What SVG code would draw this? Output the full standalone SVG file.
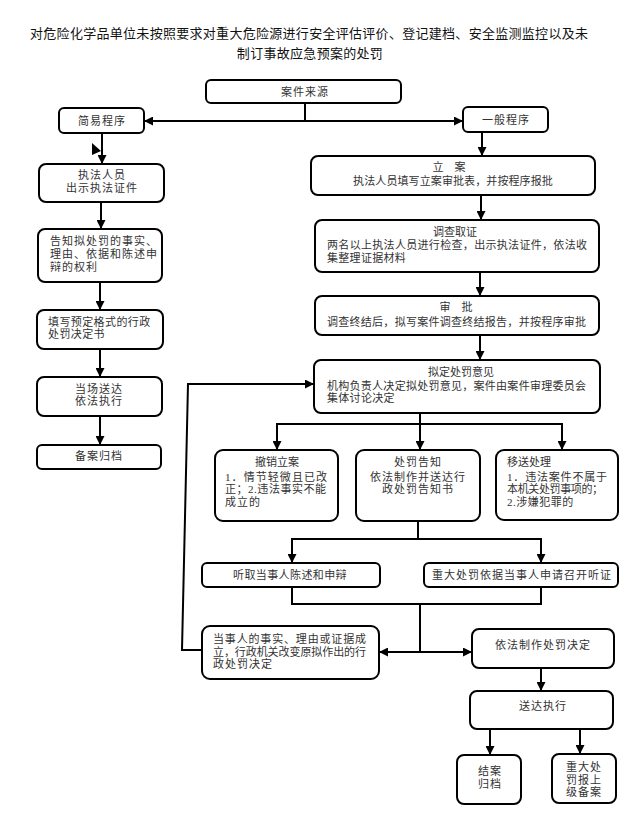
<svg xmlns="http://www.w3.org/2000/svg" width="621" height="822" viewBox="0 0 621 822">
<defs>
<marker id="ah" viewBox="0 0 10 10" refX="10" refY="5" markerWidth="9" markerHeight="9" markerUnits="userSpaceOnUse" orient="auto">
<path d="M0,0 L10,5 L0,10 z" fill="#000"/>
</marker>
<style>
.box{fill:#fff;stroke:#000;stroke-width:2}
.t{font-family:"Liberation Serif","Noto Sans CJK SC",serif;font-size:11px;fill:#333}
.c{text-anchor:middle}
.s1{letter-spacing:1px}
.title{font-family:"Liberation Serif","Noto Sans CJK SC",serif;font-size:13px;fill:#111}
.ln{fill:none;stroke:#000;stroke-width:2}
.ar{marker-end:url(#ah)}
</style>
</defs>
<rect width="621" height="822" fill="#fff"/>
<g id="title">
<text class="title" x="30" y="38" textLength="558" lengthAdjust="spacing">对危险化学品单位未按照要求对重大危险源进行安全评估评价、登记建档、安全监测监控以及未</text>
<text class="title" x="310" y="58" text-anchor="middle" letter-spacing="0.3">制订事故应急预案的处罚</text>
</g>
<g id="connectors">
<path class="ln" d="M305,103 V121"/>
<path class="ln ar" d="M305,121 H144"/>
<path class="ln ar" d="M305,121 H463"/>
<polygon points="92,143 101,151 92,155" fill="#000"/>
<path class="ln ar" d="M102,133 V164"/>
<path class="ln ar" d="M101,202 V229"/>
<path class="ln ar" d="M100,282 V310"/>
<path class="ln ar" d="M100,349 V377"/>
<path class="ln ar" d="M100,416 V445"/>
<path class="ln ar" d="M482,132 V156"/>
<path class="ln ar" d="M481,195 V220"/>
<path class="ln ar" d="M480,272 V296"/>
<path class="ln ar" d="M480,335 V360"/>
<path class="ln ar" d="M202,650 H182 L188,384 H314"/>
<path class="ln" d="M420,413 V424 M277,424 H562"/>
<path class="ln ar" d="M277,423 V450"/>
<path class="ln ar" d="M420,423 V450"/>
<path class="ln ar" d="M562,423 V450"/>
<path class="ln" d="M418,521 V539 M292,539 H541"/>
<path class="ln ar" d="M292,538 V563"/>
<path class="ln ar" d="M541,538 V563"/>
<path class="ln" d="M292,587 V604 H541 V587 M420,604 V652"/>
<path class="ln ar" d="M420,652 H379"/>
<path class="ln ar" d="M420,652 H472"/>
<path class="ln ar" d="M541,668 V691"/>
<path class="ln ar" d="M490,729 V755"/>
<path class="ln ar" d="M580,729 V754"/>
</g>
<g id="n_source"><rect class="box" x="206" y="80" width="195" height="23" rx="5"/><text class="t c s1" x="305" y="96">案件来源</text></g>
<g id="n_simple"><rect class="box" x="59" y="108" width="85" height="25" rx="5"/><text class="t c s1" x="102" y="125">简易程序</text></g>
<g id="n_general"><rect class="box" x="463" y="107" width="85" height="25" rx="5"/><text class="t c s1" x="506" y="124">一般程序</text></g>
<g id="n_show"><rect class="box" x="39" y="164" width="125" height="38" rx="7"/><text class="t c s1" x="102" y="179">执法人员</text><text class="t c s1" x="102" y="192">出示执法证件</text></g>
<g id="n_inform"><rect class="box" x="38" y="229" width="124" height="53" rx="7"/><text class="t s1" x="50" y="245">告知拟处罚的事实、</text><text class="t s1" x="50" y="258">理由、依据和陈述申</text><text class="t s1" x="50" y="271">辩的权利</text></g>
<g id="n_fill"><rect class="box" x="37" y="310" width="126" height="39" rx="7"/><text class="t" x="48" y="326" letter-spacing="0.4">填写预定格式的行政</text><text class="t" x="48" y="338" letter-spacing="0.4">处罚决定书</text></g>
<g id="n_deliver1"><rect class="box" x="37" y="377" width="125" height="39" rx="7"/><text class="t c s1" x="99" y="393">当场送达</text><text class="t c s1" x="99" y="405">依法执行</text></g>
<g id="n_archive1"><rect class="box" x="37" y="445" width="124" height="24" rx="5"/><text class="t c s1" x="99" y="460">备案归档</text></g>
<g id="n_file"><rect class="box" x="311" y="156" width="284" height="39" rx="7"/><text class="t c" x="449" y="171">立　案</text><text class="t c" x="453" y="185" letter-spacing="0.1">执法人员填写立案审批表，并按程序报批</text></g>
<g id="n_invest"><rect class="box" x="315" y="220" width="284" height="52" rx="7"/><text class="t c" x="455" y="236">调查取证</text><text class="t" x="327" y="249" textLength="260" lengthAdjust="spacing">两名以上执法人员进行检查，出示执法证件，依法收</text><text class="t" x="327" y="262" letter-spacing="0.3">集整理证据材料</text></g>
<g id="n_approve"><rect class="box" x="315" y="296" width="284" height="39" rx="7"/><text class="t c" x="456" y="311">审　批</text><text class="t" x="327" y="326" textLength="259" lengthAdjust="spacing">调查终结后，拟写案件调查终结报告，并按程序审批</text></g>
<g id="n_opinion"><rect class="box" x="314" y="360" width="286" height="53" rx="7"/><text class="t c" x="461" y="376">拟定处罚意见</text><text class="t" x="327" y="390" textLength="259" lengthAdjust="spacing">机构负责人决定拟处罚意见，案件由案件审理委员会</text><text class="t" x="327" y="402" letter-spacing="0.3">集体讨论决定</text></g>
<g id="n_revoke"><rect class="box" x="215" y="450" width="123" height="71" rx="8"/><text class="t c" x="277" y="466">撤销立案</text><text class="t" x="225" y="481" textLength="102" lengthAdjust="spacing">1．情节轻微且已改</text><text class="t" x="225" y="493" textLength="101" lengthAdjust="spacing">正；2.违法事实不能</text><text class="t s1" x="225" y="506">成立的</text></g>
<g id="n_notice"><rect class="box" x="356" y="450" width="124" height="71" rx="8"/><text class="t c s1" x="418" y="466">处罚告知</text><text class="t c s1" x="418" y="481">依法制作并送达行</text><text class="t c s1" x="418" y="493">政处罚告知书</text></g>
<g id="n_transfer"><rect class="box" x="496" y="450" width="122" height="70" rx="8"/><text class="t" x="507" y="466">移送处理</text><text class="t" x="507" y="481" textLength="100" lengthAdjust="spacing">1．违法案件不属于</text><text class="t" x="507" y="493" textLength="96" lengthAdjust="spacing">本机关处罚事项的；</text><text class="t" x="507" y="506" letter-spacing="0.5">2.涉嫌犯罪的</text></g>
<g id="n_hear"><rect class="box" x="202" y="563" width="178" height="24" rx="5"/><text class="t c" x="290" y="579" letter-spacing="0.4">听取当事人陈述和申辩</text></g>
<g id="n_hearing"><rect class="box" x="424" y="563" width="194" height="24" rx="5"/><text class="t c s1" x="522" y="579">重大处罚依据当事人申请召开听证</text></g>
<g id="n_change"><rect class="box" x="202" y="626" width="177" height="53" rx="8"/><text class="t" x="213" y="643" textLength="153" lengthAdjust="spacing">当事人的事实、理由或证据成</text><text class="t" x="213" y="656" textLength="153" lengthAdjust="spacing">立，行政机关改变原拟作出的行</text><text class="t s1" x="213" y="668">政处罚决定</text></g>
<g id="n_decide"><rect class="box" x="472" y="629" width="142" height="39" rx="7"/><text class="t c s1" x="543" y="649">依法制作处罚决定</text></g>
<g id="n_deliver2"><rect class="box" x="470" y="691" width="143" height="38" rx="7"/><text class="t c s1" x="543" y="710">送达执行</text></g>
<g id="n_close"><rect class="box" x="457" y="755" width="64" height="49" rx="7"/><text class="t c s1" x="490" y="775">结案</text><text class="t c s1" x="490" y="788">归档</text></g>
<g id="n_report"><rect class="box" x="552" y="754" width="64" height="49" rx="7"/><text class="t c s1" x="584" y="771">重大处</text><text class="t c s1" x="584" y="784">罚报上</text><text class="t c s1" x="584" y="796">级备案</text></g>
</svg>
